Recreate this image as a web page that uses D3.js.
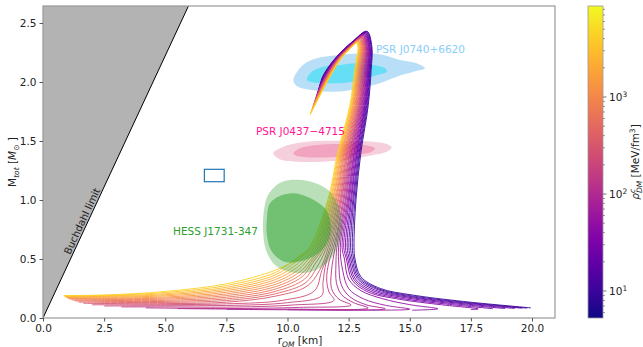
<!DOCTYPE html>
<html>
<head>
<meta charset="utf-8">
<script src="https://cdn.jsdelivr.net/npm/d3@7"></script>
<style>
  body { margin: 0; background: #fff; }
  text { font-family: "DejaVu Sans", sans-serif; }
</style>
</head>
<body>
<div id="chart"></div>
<script>
// ---- data ----
// central DM density of each curve [MeV/fm^3], low -> high
const rhoDM = [9.0, 11.4, 14.5, 18.4, 23.3, 29.6, 37.5, 47.6, 60.4, 76.6, 97.2, 123, 156, 198,
  252, 319, 405, 514, 652, 827, 1049, 1331, 1689, 2142, 2718, 3449, 4375];

// low-mass part of each curve, [r, M] pairs (start -> up to M ~ 0.5)
const lowArms = [
  [[19.95,.086],[17.2,.14],[15.1,.195],[13.8,.25],[13.0,.35],[12.76,.5]],
  [[19.8,.084],[17.1,.136],[15.0,.19],[13.75,.245],[12.95,.345],[12.71,.5]],
  [[19.6,.083],[17.0,.132],[14.95,.184],[13.7,.24],[12.9,.34],[12.65,.5]],
  [[19.3,.081],[16.9,.127],[14.9,.178],[13.6,.235],[12.85,.335],[12.59,.5]],
  [[18.9,.08],[16.7,.123],[14.8,.172],[13.5,.23],[12.78,.33],[12.53,.5]],
  [[18.4,.079],[16.5,.118],[14.7,.165],[13.4,.225],[12.72,.325],[12.47,.5]],
  [[17.5,.072],[17.8,.077],[16.3,.112],[14.6,.158],[13.3,.22],[12.65,.32],[12.41,.5]],
  [[15.1,.066],[16.15,.078],[15.0,.113],[13.9,.163],[13.0,.232],[12.5,.33],[12.33,.5]],
  [[10.0,.07],[12.5,.067],[15.0,.075],[14.0,.108],[13.1,.163],[12.5,.25],[12.26,.4]],
  [[7.5,.074],[10.0,.07],[14.0,.078],[13.2,.113],[12.55,.18],[12.2,.28],[12.1,.45]],
  [[5.5,.08],[7.5,.076],[10.0,.075],[13.3,.085],[12.7,.13],[12.2,.2],[12.0,.3],[11.98,.45]],
  [[4.2,.086],[7.5,.08],[10.5,.09],[12.6,.11],[12.1,.16],[11.8,.25],[11.8,.4]],
  [[3.2,.094],[5.0,.094],[7.5,.092],[10.2,.11],[11.9,.15],[11.7,.22],[11.6,.33],[11.7,.48]],
  [[2.5,.102],[5.0,.104],[7.5,.106],[10.0,.13],[11.4,.19],[11.45,.3],[11.58,.47]],
  [[2.0,.112],[5.0,.113],[7.5,.12],[9.8,.15],[11.1,.23],[11.4,.4]],
  [[1.65,.125],[2.5,.123],[5,.122],[7.5,.134],[9.5,.185],[10.8,.27],[11.3,.4]],
  [[1.45,.135],[2.5,.133],[5,.132],[7.5,.148],[9.5,.205],[10.75,.3],[11.2,.43]],
  [[1.3,.145],[2.5,.141],[5,.141],[7.5,.162],[9.5,.225],[10.7,.33],[11.1,.45]],
  [[1.2,.152],[2.5,.149],[5,.15],[7.5,.176],[9.5,.245],[10.6,.35],[11.0,.46]],
  [[1.1,.16],[2.5,.157],[5,.16],[7.5,.19],[9.5,.265],[10.55,.37],[10.95,.47]],
  [[1.02,.166],[2.5,.164],[5,.169],[7.5,.204],[9.5,.285],[10.5,.39],[10.9,.48]],
  [[.97,.172],[2.5,.171],[5,.178],[7.5,.218],[9.5,.305],[10.45,.41],[10.82,.49]],
  [[.93,.177],[2.5,.177],[5,.188],[7.5,.232],[9.5,.325],[10.4,.43],[10.75,.5]],
  [[.9,.181],[2.5,.183],[5,.197],[7.5,.246],[9.5,.345],[10.35,.45],[10.68,.51]],
  [[.88,.185],[2.5,.188],[5,.206],[7.5,.26],[9.5,.365],[10.3,.47],[10.6,.52]],
  [[.86,.188],[2.5,.192],[5,.216],[7.5,.275],[9.5,.385],[10.2,.48],[10.52,.53]],
  [[.85,.19],[2.5,.195],[5,.225],[7.5,.29],[9.5,.405],[10.4,.5]]
];

// radius of each curve on the stable branch at these masses
const branchM = [0.6, 1.0, 1.4, 1.8, 2.1, 2.3];
const rAt06 = [12.72,12.65,12.58,12.51,12.44,12.37,12.30,12.23,12.16,12.09,12.02,11.95,11.88,11.81,
  11.74,11.67,11.60,11.53,11.46,11.39,11.32,11.25,11.18,11.11,11.04,10.97,10.90];
const rAt10 = [12.80,12.76,12.71,12.67,12.62,12.58,12.53,12.49,12.45,12.40,12.36,12.31,12.27,12.22,
  12.18,12.14,12.09,12.05,12.00,11.96,11.92,11.87,11.83,11.78,11.74,11.69,11.65];
const rAt14 = [13.00,12.96,12.93,12.89,12.85,12.82,12.78,12.74,12.71,12.67,12.63,12.60,12.56,12.53,
  12.49,12.45,12.42,12.38,12.34,12.31,12.27,12.23,12.20,12.16,12.12,12.09,12.05];
const rAt18 = [13.30,13.27,13.24,13.21,13.18,13.16,13.13,13.10,13.07,13.04,13.01,12.98,12.95,12.93,
  12.90,12.87,12.84,12.81,12.78,12.75,12.72,12.69,12.67,12.64,12.61,12.58,12.55];
const rAt21 = [13.42,13.39,13.37,13.34,13.32,13.29,13.27,13.24,13.21,13.19,13.16,13.14,13.11,13.09,
  13.06,13.03,13.01,12.98,12.96,12.93,12.90,12.88,12.85,12.83,12.80,12.78,12.75];
const rAt23 = [13.45,13.43,13.41,13.38,13.36,13.34,13.32,13.30,13.27,13.25,13.23,13.21,13.19,13.17,
  13.14,13.12,13.10,13.08,13.06,13.03,13.01,12.99,12.97,12.95,12.92,12.90,12.88];

// maximum-mass point and the unstable branch after it
const topR = [13.25,13.23,13.22,13.20,13.18,13.17,13.15,13.13,13.12,13.10,13.08,13.07,13.05,13.04,
  13.02,13.00,12.99,12.97,12.95,12.94,12.92,12.90,12.89,12.87,12.85,12.84,12.82];
const topM = [2.430,2.426,2.422,2.418,2.415,2.411,2.407,2.403,2.399,2.395,2.392,2.388,2.384,2.380,
  2.376,2.372,2.368,2.365,2.361,2.357,2.353,2.349,2.345,2.341,2.338,2.334,2.330];
const b1R = [12.70,12.69,12.69,12.68,12.68,12.67,12.67,12.66,12.65,12.65,12.64,12.64,12.63,12.63,
  12.62,12.61,12.61,12.60,12.60,12.59,12.58,12.58,12.57,12.57,12.56,12.56,12.55];
const b1M = [2.350,2.347,2.345,2.342,2.339,2.337,2.334,2.331,2.328,2.326,2.323,2.320,2.318,2.315,
  2.312,2.310,2.307,2.304,2.302,2.299,2.296,2.293,2.291,2.288,2.285,2.283,2.280];
const backM = [2.2, 2.05];
const rBack22 = [11.95,11.96,11.97,11.98,11.99,12.00,12.01,12.02,12.03,12.04,12.05,12.06,12.07,12.08,
  12.08,12.09,12.10,12.11,12.12,12.13,12.14,12.15,12.16,12.17,12.18,12.19,12.20];
const rBack205 = [11.45,11.46,11.47,11.48,11.50,11.51,11.52,11.53,11.54,11.55,11.57,11.58,11.59,11.60,
  11.61,11.62,11.63,11.65,11.66,11.67,11.68,11.69,11.70,11.72,11.73,11.74,11.75];
const endR = [11.30,11.29,11.27,11.26,11.24,11.23,11.21,11.20,11.18,11.17,11.15,11.14,11.12,11.11,
  11.10,11.08,11.07,11.05,11.04,11.02,11.01,10.99,10.98,10.96,10.95,10.93,10.92];
const endM = [1.950,1.941,1.932,1.923,1.915,1.906,1.897,1.888,1.879,1.870,1.862,1.853,1.844,1.835,
  1.826,1.817,1.808,1.800,1.791,1.782,1.773,1.764,1.755,1.746,1.738,1.729,1.720];

// observational contours [r, M]
const j0740Outer = [[10.24,2.017],[10.63,2.144],[11.19,2.201],[12.15,2.229],[13.24,2.243],[13.92,2.229],
  [14.60,2.186],[15.28,2.158],[15.62,2.116],[15.15,2.087],[14.47,2.045],[13.78,1.989],[13.10,1.955],
  [12.42,1.926],[11.60,1.918],[10.79,1.938],[10.38,1.966]];
const j0740Inner = [[10.79,2.017],[10.99,2.087],[11.46,2.130],[12.15,2.144],[12.83,2.158],[13.51,2.144],
  [13.99,2.116],[14.06,2.087],[13.65,2.059],[13.10,2.023],[12.42,1.994],[11.74,1.989],[11.12,1.994]];
const j0437Outer = [[9.42,1.396],[9.83,1.452],[10.79,1.494],[12.15,1.503],[13.51,1.494],[14.06,1.475],
  [14.26,1.447],[14.06,1.409],[13.51,1.381],[12.56,1.345],[11.46,1.325],[10.38,1.325],[9.69,1.345]];
const j0437Inner = [[10.24,1.396],[10.51,1.438],[11.19,1.466],[12.15,1.475],[13.10,1.466],[13.58,1.438],
  [13.44,1.409],[12.69,1.381],[11.74,1.362],[10.79,1.362],[10.38,1.373]];
const hessOuter = [[10.10,1.169],[10.79,1.164],[11.33,1.127],[11.74,1.070],[12.07,0.958],[12.23,0.788],
  [12.07,0.619],[11.66,0.475],[10.92,0.390],[10.10,0.390],[9.49,0.449],[9.12,0.576],[9.00,0.746],
  [9.04,0.915],[9.20,1.042],[9.61,1.136]];
const hessInner = [[9.28,0.972],[9.69,1.034],[10.24,1.057],[10.79,1.028],[11.19,0.986],[11.53,0.930],
  [11.74,0.831],[11.74,0.703],[11.41,0.576],[10.72,0.492],[9.90,0.475],[9.37,0.559],[9.16,0.695],
  [9.16,0.847]];

const buchdahlR = [0, 6.0];
const buchdahlM = [0, 2.667];
const boxR = [6.6, 7.41], boxM = [1.155, 1.26];

const xTicks = [0, 2.5, 5, 7.5, 10, 12.5, 15, 17.5, 20];
const yTicks = [0, 0.5, 1.0, 1.5, 2.0, 2.5];
const cbMajor = [10, 100, 1000];
const cbMinor = [6,7,8,9,20,30,40,50,60,70,80,90,200,300,400,500,600,700,800,900,2000,3000,4000,5000,6000,7000,8000];

// ---- layout ----
const W = 643, H = 347;
const plot = { left: 43, right: 555, top: 6, bottom: 318 };
const cb = { left: 588, width: 15 };

const svg = d3.select('#chart').append('svg')
  .attr('width', W).attr('height', H);

const x = d3.scaleLinear().domain([0, 20.94]).range([plot.left, plot.right]);
const y = d3.scaleLinear().domain([0, 2.644]).range([plot.bottom, plot.top]);
const cScale = d3.scaleSequentialLog(d3.interpolatePlasma).domain([5.27, 8670]);

svg.append('clipPath').attr('id', 'clip').append('rect')
  .attr('x', plot.left).attr('y', plot.top)
  .attr('width', plot.right - plot.left).attr('height', plot.bottom - plot.top);

const g = svg.append('g').attr('clip-path', 'url(#clip)');

// Buchdahl region
g.append('path')
  .attr('d', d3.line()([[x(buchdahlR[0]), y(buchdahlM[0])], [x(buchdahlR[1]), y(buchdahlM[1])],
    [x(0), y(buchdahlM[1])]]))
  .attr('fill', '#b3b3b3');
g.append('line')
  .attr('x1', x(buchdahlR[0])).attr('y1', y(buchdahlM[0]))
  .attr('x2', x(buchdahlR[1])).attr('y2', y(buchdahlM[1]))
  .attr('stroke', '#000').attr('stroke-width', 1);

const area = d3.line().x(d => x(d[0])).y(d => y(d[1])).curve(d3.curveCatmullRomClosed);

// contours drawn below the curves
g.append('path').attr('d', area(j0740Outer)).attr('fill', '#b9dff8');
g.append('path').attr('d', area(j0740Inner)).attr('fill', '#66def6');
g.append('path').attr('d', area(j0437Outer)).attr('fill', '#f6cfdc');
g.append('path').attr('d', area(j0437Inner)).attr('fill', '#f2a3c0');

// mass-radius curves
const line = d3.line().x(d => x(d[0])).y(d => y(d[1])).curve(d3.curveCatmullRom.alpha(0.5));
rhoDM.forEach((rho, i) => {
  const pts = lowArms[i].concat([
    [rAt06[i], branchM[0]], [rAt10[i], branchM[1]], [rAt14[i], branchM[2]],
    [rAt18[i], branchM[3]], [rAt21[i], branchM[4]], [rAt23[i], branchM[5]],
    [topR[i], topM[i]], [b1R[i], b1M[i]],
    [rBack22[i], backM[0]], [rBack205[i], backM[1]], [endR[i], endM[i]]
  ]);
  g.append('path')
    .attr('d', line(pts))
    .attr('fill', 'none')
    .attr('stroke', cScale(rho))
    .attr('stroke-width', 0.9);
});

// HESS contour on top, semi transparent
g.append('path').attr('d', area(hessOuter)).attr('fill', '#2ca02c').attr('fill-opacity', 0.33);
g.append('path').attr('d', area(hessInner)).attr('fill', '#2ca02c').attr('fill-opacity', 0.5);

// legend box
g.append('rect')
  .attr('x', x(boxR[0])).attr('y', y(boxM[1]))
  .attr('width', x(boxR[1]) - x(boxR[0])).attr('height', y(boxM[0]) - y(boxM[1]))
  .attr('fill', 'none').attr('stroke', '#1f77b4').attr('stroke-width', 1.2);

// labels in the plot
const labels = [
  { t: 'PSR J0740+6620', r: 13.62, m: 2.245, c: '#87cefa' },
  { t: 'PSR J0437\u22124715', r: 8.71, m: 1.547, c: '#ff1493' },
  { t: 'HESS J1731-347', r: 5.32, m: 0.703, c: '#2ca02c' }
];
svg.selectAll('text.lbl').data(labels).enter().append('text')
  .attr('class', 'lbl')
  .attr('x', d => x(d.r)).attr('y', d => y(d.m))
  .attr('fill', d => d.c).attr('font-size', 10.5)
  .text(d => d.t);

const bx = x(1.8), by = y(0.8);
svg.append('text')
  .attr('transform', `translate(${bx},${by}) rotate(-65)`)
  .attr('text-anchor', 'middle').attr('dy', -2)
  .attr('font-size', 10).attr('fill', '#222')
  .text('Buchdahl limit');

// frame
svg.append('rect')
  .attr('x', plot.left).attr('y', plot.top)
  .attr('width', plot.right - plot.left).attr('height', plot.bottom - plot.top)
  .attr('fill', 'none').attr('stroke', '#999').attr('stroke-width', 1.2);

// axes
const xAxis = svg.append('g').attr('transform', `translate(0,${plot.bottom})`)
  .call(d3.axisBottom(x).tickValues(xTicks).tickFormat(d3.format('.1f')).tickSize(3.5).tickPadding(3));
const yAxis = svg.append('g').attr('transform', `translate(${plot.left},0)`)
  .call(d3.axisLeft(y).tickValues(yTicks).tickFormat(d3.format('.1f')).tickSize(3.5).tickPadding(3));
[xAxis, yAxis].forEach(a => {
  a.select('.domain').remove();
  a.selectAll('.tick line').attr('stroke', '#555');
  a.selectAll('.tick text').attr('fill', '#222').attr('font-size', 10.5)
    .attr('font-family', '"DejaVu Sans", sans-serif');
});

// axis titles
const xl = svg.append('text').attr('x', 300).attr('y', 344)
  .attr('text-anchor', 'middle').attr('font-size', 10.5).attr('fill', '#222');
xl.append('tspan').text('r');
xl.append('tspan').attr('font-size', 7.5).attr('font-style', 'italic').attr('dy', 2.5).text('OM');
xl.append('tspan').attr('dy', -2.5).text(' [km]');

const yl = svg.append('text').attr('transform', 'translate(16,162) rotate(-90)')
  .attr('text-anchor', 'middle').attr('font-size', 10.5).attr('fill', '#222');
yl.append('tspan').text('M');
yl.append('tspan').attr('font-size', 7.5).attr('font-style', 'italic').attr('dy', 2.5).text('tot');
yl.append('tspan').attr('dy', -2.5).text(' [');
yl.append('tspan').attr('font-style', 'italic').text('M');
yl.append('tspan').attr('font-size', 7.5).attr('dy', 2.5).text('\u2299');
yl.append('tspan').attr('dy', -2.5).text(' ]');

// colorbar
const cy = d3.scaleLog().domain(cScale.domain()).range([plot.bottom, plot.top]);
const grad = svg.append('defs').append('linearGradient').attr('id', 'cbgrad')
  .attr('x1', 0).attr('y1', 1).attr('x2', 0).attr('y2', 0);
d3.range(0, 1.0001, 0.05).forEach(t => {
  grad.append('stop').attr('offset', t).attr('stop-color', d3.interpolatePlasma(t));
});
svg.append('rect')
  .attr('x', cb.left).attr('y', plot.top)
  .attr('width', cb.width).attr('height', plot.bottom - plot.top)
  .attr('fill', 'url(#cbgrad)').attr('stroke', '#999').attr('stroke-width', 0.8);

const cbG = svg.append('g');
cbG.selectAll('line.minor').data(cbMinor).enter().append('line')
  .attr('x1', cb.left + cb.width).attr('x2', cb.left + cb.width + 2)
  .attr('y1', d => cy(d)).attr('y2', d => cy(d))
  .attr('stroke', '#555').attr('stroke-width', 0.6);
cbG.selectAll('line.major').data(cbMajor).enter().append('line')
  .attr('x1', cb.left + cb.width).attr('x2', cb.left + cb.width + 3.5)
  .attr('y1', d => cy(d)).attr('y2', d => cy(d))
  .attr('stroke', '#555').attr('stroke-width', 0.8);
const cbt = cbG.selectAll('text.maj').data(cbMajor).enter().append('text')
  .attr('x', cb.left + cb.width + 6).attr('y', d => cy(d) + 4)
  .attr('font-size', 10.5).attr('fill', '#222');
cbt.append('tspan').text('10');
cbt.append('tspan').attr('font-size', 7.5).attr('dy', -4).text(d => Math.round(Math.log10(d)));

const cl = svg.append('text').attr('transform', 'translate(639,162) rotate(-90)')
  .attr('text-anchor', 'middle').attr('font-size', 10.5).attr('fill', '#222');
cl.append('tspan').attr('font-style', 'italic').text('\u03c1');
cl.append('tspan').attr('font-size', 7.5).attr('font-style', 'italic').attr('dy', -4).text('c');
cl.append('tspan').attr('font-size', 7.5).attr('font-style', 'italic').attr('dx', -4).attr('dy', 7).text('DM');
cl.append('tspan').attr('dy', -3).text(' [MeV/fm');
cl.append('tspan').attr('font-size', 7.5).attr('dy', -4).text('3');
cl.append('tspan').attr('dy', 4).text(']');
</script>
</body>
</html>
